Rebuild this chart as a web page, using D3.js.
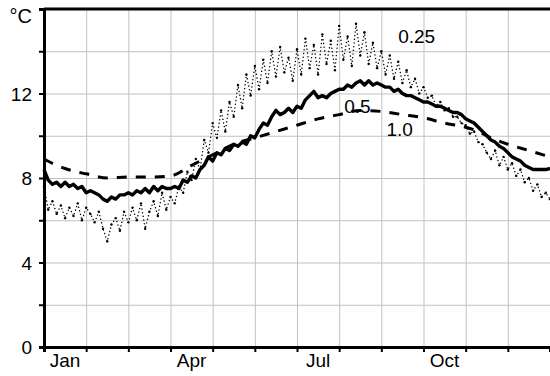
<!DOCTYPE html>
<html>
<head>
<meta charset="utf-8">
<script src="https://cdn.jsdelivr.net/npm/d3@7"></script>
<style>
  body { margin: 0; background: #fff; }
  svg { display: block; font-family: "Liberation Sans", Arial, sans-serif; }
  .grid line { stroke: #c2c2c2; stroke-width: 1; }
</style>
</head>
<body>
<div id="app"></div>
<script>
const margin = { top: 9, right: 0, bottom: 29, left: 44 },
      width  = 550 - margin.left - margin.right,
      height = 376 - margin.top - margin.bottom;

// month labels shown under the axis
const monthLabels = ["Jan", "", "", "Apr", "", "", "Jul", "", "", "Oct", "", ""];
const yLabels = [0, 4, 8, 12];

// time axis in months, sampled every 0.1 month
const tMonths = d3.range(0, 121).map(i => i / 10);

// 0.25 m (dotted, very noisy)
const s025 = [7.6, 6.5, 6.9, 6.3, 6.7, 6.1, 6.6, 6.2, 6.8, 6.0,
  6.6, 6.3, 5.9, 6.4, 5.6, 5.0, 5.8, 6.1, 5.5, 6.4,
  5.9, 6.6, 6.0, 6.8, 5.6, 6.4, 6.9, 6.2, 7.3, 6.5,
  7.1, 6.8, 7.6, 7.3, 8.3, 7.9, 8.9, 8.4, 9.8, 9.2,
  10.6, 9.9, 11.2, 10.2, 11.6, 10.9, 12.4, 11.3, 12.9, 11.9,
  13.3, 12.2, 13.6, 12.5, 14.0, 12.8, 14.2, 13.0, 13.7, 12.6,
  14.1, 12.9, 14.6, 13.2, 14.3, 12.9, 14.8, 13.4, 14.5, 13.1,
  15.2, 13.6, 14.7, 13.3, 15.3, 13.8, 14.9, 13.4, 14.4, 13.2,
  14.0, 12.9, 13.8, 12.7, 13.5, 12.5, 13.1, 12.3, 12.7, 12.0,
  12.3, 11.8, 11.9, 11.4, 11.6, 11.2, 11.3, 10.9, 10.9, 10.6,
  10.5, 10.1, 10.2, 9.7, 9.6, 9.2, 8.9, 9.3, 8.6, 9.0,
  8.4, 8.7, 8.1, 8.4, 7.8, 8.0, 7.4, 7.7, 7.1, 7.3,
  7.0];

// 0.5 m (thick solid)
const s05 = [8.4, 7.9, 7.7, 7.8, 7.6, 7.8, 7.6, 7.7, 7.5, 7.6,
  7.3, 7.4, 7.3, 7.2, 7.0, 6.9, 7.1, 7.0, 7.2, 7.2,
  7.3, 7.2, 7.4, 7.3, 7.5, 7.3, 7.6, 7.4, 7.6, 7.5,
  7.5, 7.6, 7.5, 7.9, 7.8, 8.1, 8.0, 8.4, 8.6, 9.0,
  8.8, 9.2, 9.1, 9.4, 9.3, 9.6, 9.5, 9.7, 9.6, 10.0,
  9.9, 10.3, 10.6, 10.5, 10.9, 11.2, 11.0, 11.1, 11.3, 11.1,
  11.4, 11.3, 11.7, 11.9, 12.1, 11.8, 11.9, 11.8, 12.0, 12.1,
  12.2, 12.2, 12.4, 12.3, 12.5, 12.6, 12.4, 12.6, 12.4, 12.5,
  12.4, 12.3, 12.3, 12.1, 12.2, 12.0, 11.9, 11.9, 11.8, 11.7,
  11.6, 11.6, 11.5, 11.4, 11.4, 11.3, 11.2, 11.1, 11.1, 11.0,
  10.8, 10.7, 10.6, 10.4, 10.2, 10.0, 9.8, 9.7, 9.5, 9.4,
  9.2, 9.0, 8.9, 8.8, 8.6, 8.5, 8.4, 8.4, 8.4, 8.4,
  8.45];

// 1.0 m (dashed, smooth)
const s10Months = [0, 0.25, 0.5, 0.75, 1, 1.5, 2, 2.5, 3, 3.5, 4, 4.5, 5, 5.5,
  6, 6.5, 7, 7.5, 8, 8.5, 9, 9.5, 10, 10.3, 10.6, 11, 11.5, 12];
const s10 = [8.9, 8.65, 8.45, 8.3, 8.2, 8.0, 8.05, 8.05, 8.1, 8.6, 9.1, 9.6, 9.9, 10.2,
  10.5, 10.8, 11.0, 11.2, 11.15, 11.0, 10.85, 10.6, 10.4, 10.2, 9.9, 9.6, 9.3, 9.0];

const xScale = d3.scaleLinear().domain([0, 12]).range([0, width]);
const yScale = d3.scaleLinear().domain([0, 16]).range([height, 0]);

const svg = d3.select("#app")
.append("svg")
  .attr("width", 550)
  .attr("height", 376)
.append("g")
  .attr("transform", `translate(${margin.left},${margin.top})`);

/* grid */
svg.append("g")
  .attr("class", "grid")
  .attr("transform", `translate(0, ${height})`)
  .call(d3.axisBottom(xScale).tickValues(d3.range(1, 12)).tickSize(-height).tickFormat(""))
  .call(g => g.select(".domain").remove());

svg.append("g")
  .attr("class", "grid")
  .call(d3.axisLeft(yScale).tickValues(d3.range(2, 16, 2)).tickSize(-width).tickFormat(""))
  .call(g => g.select(".domain").remove());

/* series */
const line = d3.line()
  .x((d, i) => xScale(tMonths[i]))
  .y(d => yScale(d));

svg.append("path")
  .datum(s025)
  .attr("fill", "none")
  .attr("stroke", "#000")
  .attr("stroke-width", 1.4)
  .attr("stroke-linecap", "round")
  .attr("stroke-dasharray", "0.1,3.6")
  .attr("d", line);

svg.selectAll(".dot")
  .data(s025)
  .enter()
  .append("circle")
  .attr("class", "dot")
  .attr("cx", (d, i) => xScale(tMonths[i]))
  .attr("cy", d => yScale(d))
  .attr("r", 1.2)
  .attr("fill", "#000");

svg.append("path")
  .datum(s05)
  .attr("fill", "none")
  .attr("stroke", "#000")
  .attr("stroke-width", 3.4)
  .attr("stroke-linejoin", "round")
  .attr("d", line);

const line10 = d3.line()
  .x((d, i) => xScale(s10Months[i]))
  .y(d => yScale(d))
  .curve(d3.curveMonotoneX);

svg.append("path")
  .datum(s10)
  .attr("fill", "none")
  .attr("stroke", "#000")
  .attr("stroke-width", 3)
  .attr("stroke-dasharray", "10,9")
  .attr("d", line10);

/* series labels */
const seriesLabels = [
  { text: "0.25", m: 8.4, v: 14.4 },
  { text: "0.5",  m: 7.12, v: 11.1 },
  { text: "1.0",  m: 8.12, v: 10.0 }
];
svg.selectAll(".slabel")
  .data(seriesLabels)
  .enter()
  .append("text")
  .attr("x", d => xScale(d.m))
  .attr("y", d => yScale(d.v))
  .attr("font-size", 19)
  .text(d => d.text);

/* axes */
const xAxis = svg.append("g")
  .attr("transform", `translate(0, ${height})`)
  .call(d3.axisBottom(xScale).tickValues(d3.range(0, 13)).tickSize(5).tickFormat(""));
xAxis.select(".domain").attr("stroke-width", 3);
xAxis.selectAll(".tick line").attr("stroke-width", 2);

svg.selectAll(".mlabel")
  .data(monthLabels)
  .enter()
  .append("text")
  .attr("x", (d, i) => xScale(i + 0.5))
  .attr("y", height + 20)
  .attr("text-anchor", "middle")
  .attr("font-size", 19)
  .text(d => d);

const yAxis = svg.append("g")
  .call(d3.axisLeft(yScale).tickValues(d3.range(0, 17, 2)).tickSize(5).tickFormat(""));
yAxis.select(".domain").attr("stroke-width", 3);
yAxis.selectAll(".tick line").attr("stroke-width", 2);

svg.selectAll(".ylabel")
  .data(yLabels)
  .enter()
  .append("text")
  .attr("x", -12)
  .attr("y", d => yScale(d) + 7)
  .attr("text-anchor", "end")
  .attr("font-size", 19)
  .text(d => d);

svg.append("text")
  .attr("x", -12)
  .attr("y", yScale(16) + 14)
  .attr("text-anchor", "end")
  .attr("font-size", 20)
  .text("°C");

/* top border */
svg.append("line")
  .attr("x1", 0).attr("x2", width)
  .attr("y1", 0).attr("y2", 0)
  .attr("stroke", "#000")
  .attr("stroke-width", 3);
</script>
</body>
</html>
